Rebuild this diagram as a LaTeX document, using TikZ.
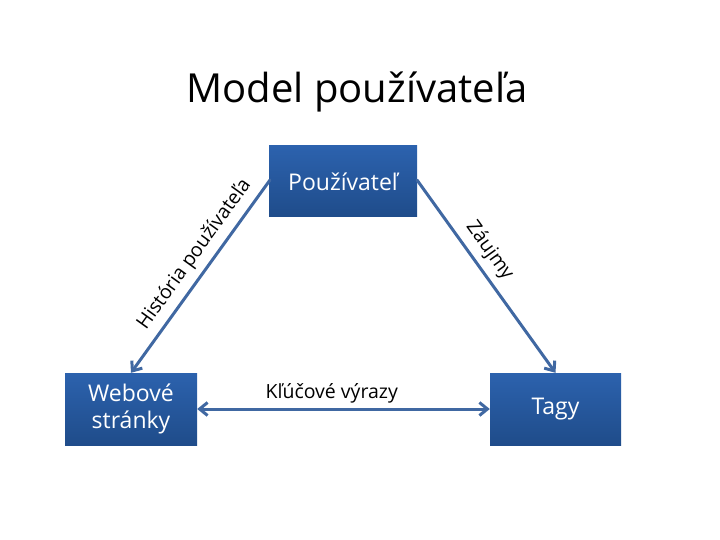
\documentclass[tikz,border=0pt]{standalone}
\usepackage{fontspec}
\setmainfont{Open Sans}
\usetikzlibrary{arrows.meta}
\definecolor{boxtop}{HTML}{2C62AE}
\definecolor{boxbot}{HTML}{1F4C8A}
\definecolor{linkblue}{HTML}{4068A2}
\tikzset{
  modelbox/.style={draw=none, top color=boxtop, bottom color=boxbot, text=white,
    align=center, inner sep=0pt, font=\fontsize{23}{27}\selectfont},
  link/.style={draw=linkblue, line width=3pt, {Straight Barb[length=8pt,width=13pt]}-{Straight Barb[length=8pt,width=13pt]}},
  linklabel/.style={font=\fontsize{19.5}{23}\selectfont, text=black}
}
\begin{document}
\begin{tikzpicture}[x=1pt, y=-1pt, line join=round, line cap=round]
	\useasboundingbox (0,0) rectangle (720,540);
	\node (title) at (357,92) {\fontsize{40}{46}\selectfont Model používateľa};
	\node[modelbox, minimum width=148pt, minimum height=71pt] (user) at (343,181.5) {Používateľ};
	\node[modelbox, minimum width=132pt, minimum height=72pt] (web) at (131,409) {Webové\\stránky};
	\node[modelbox, minimum width=131pt, minimum height=72pt] (tags) at (555.5,409) {Tagy};
	\coordinate (ul) at (270,180);
	\coordinate (ur) at (417,180);
	\draw[link, -{Straight Barb[length=8pt,width=13pt]}] (ul) -- (web.north)
		node[linklabel, sloped, above=3pt, pos=0.44] {História používateľa};
	\draw[link, -{Straight Barb[length=8pt,width=13pt]}] (ur) -- (tags.north)
		node[linklabel, sloped, above=3pt, pos=0.42] {Záujmy};
	\draw[link] (web) -- (tags)
		node[linklabel, above=1pt, pos=0.46] {Kľúčové výrazy};
\end{tikzpicture}
\end{document}
